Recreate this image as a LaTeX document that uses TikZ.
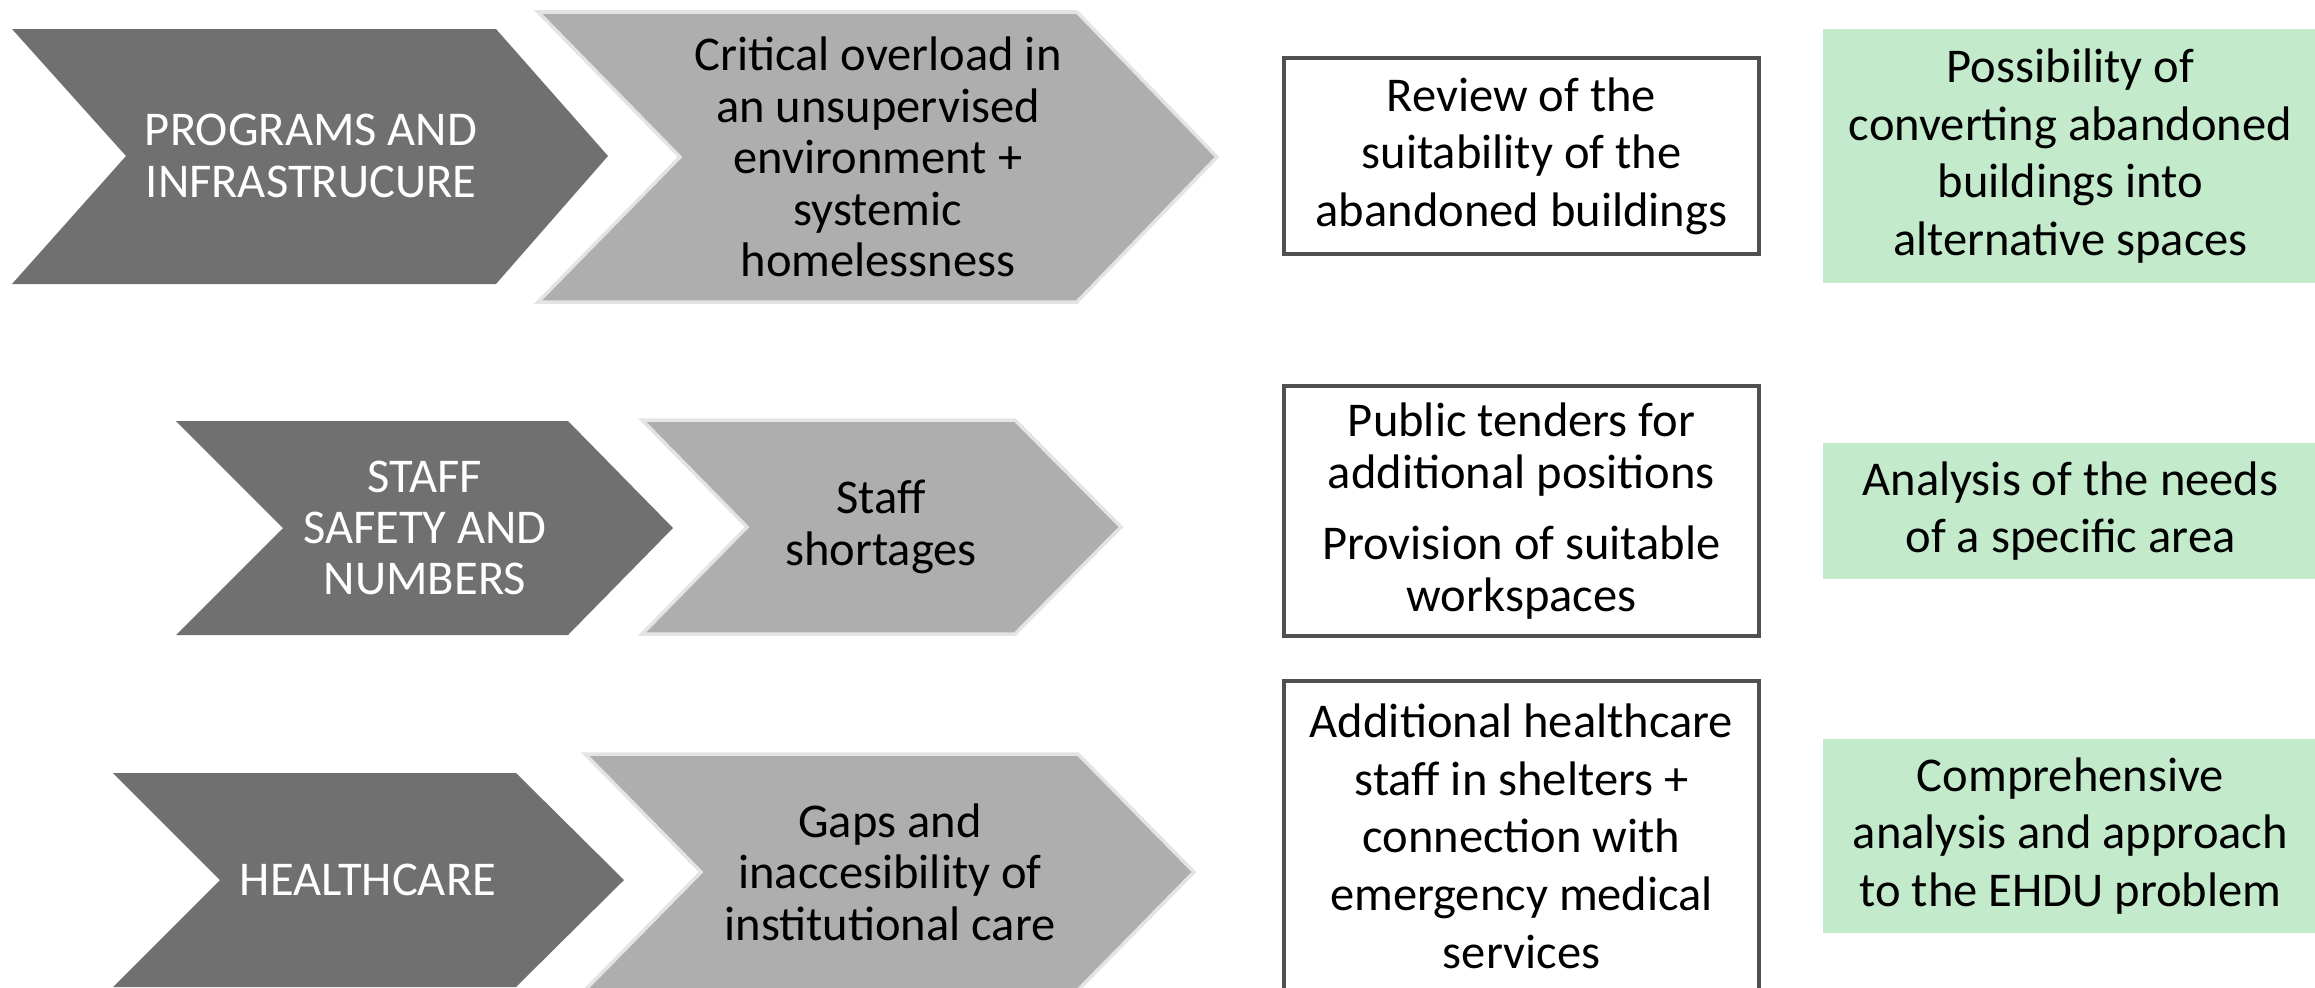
\documentclass[tikz,border=0pt]{standalone}
\usepackage{fontspec}
\setmainfont{Carlito}
\usepackage{tikz}
\usetikzlibrary{positioning}
\definecolor{chevdark}{HTML}{707070}
\definecolor{chevlight}{HTML}{AEAEAE}
\definecolor{chevedge}{HTML}{E4E4E4}
\definecolor{boxline}{HTML}{505050}
\definecolor{mint}{HTML}{C2EACB}

\begin{document}
\begin{tikzpicture}[x=0.01cm, y=-0.01cm,
    darkchev/.style={fill=chevdark},
    lightchev/.style={fill=chevlight, draw=chevedge, line width=1pt},
    headtext/.style={text=white, align=center, font=\fontsize{13.8}{14.6}\selectfont},
    issuetext/.style={text=black, align=center, font=\fontsize{13.8}{14.6}\selectfont},
    actbox/.style={draw=boxline, line width=1.1pt, fill=white, align=center, minimum width=4.75cm, inner sep=0pt, font=\fontsize{13.8}{16.4}\selectfont},
    goalbox/.style={fill=mint, align=center, minimum width=4.95cm, inner sep=0pt, font=\fontsize{13.8}{16.4}\selectfont}]
        \clip (0,0) rectangle (2315,987);
        % Chevrons
        \fill[darkchev] (12,29) -- (496,29) -- (608,156) -- (496,284) -- (12,284) -- (126,156) -- cycle;
        \filldraw[lightchev] (538,12) -- (1077,12) -- (1217,157) -- (1077,302) -- (538,302) -- (680,157) -- cycle;
        \fill[darkchev] (176,421) -- (568,421) -- (673,528) -- (568,635) -- (176,635) -- (283,528) -- cycle;
        \filldraw[lightchev] (642,420) -- (1015,420) -- (1121,527) -- (1015,634) -- (642,634) -- (747,527) -- cycle;
        \fill[darkchev] (113,773) -- (516,773) -- (624,880) -- (516,987) -- (113,987) -- (220,880) -- cycle;
        \filldraw[lightchev] (585,754) -- (1078,754) -- (1194,872) -- (1078,990) -- (585,990) -- (701,872) -- cycle;

        % Chevron labels
        \node[headtext] (programs) at (311,156) {PROGRAMS AND\\INFRASTRUCURE};
        \node[issuetext] (overload) at (878,157) {Critical overload in\\an unsupervised\\environment +\\systemic\\homelessness};
        \node[headtext] (staff) at (425,528) {STAFF\\SAFETY AND\\NUMBERS};
        \node[issuetext] (shortage) at (881,527) {Staff\\shortages};
        \node[headtext] (health) at (368,880) {HEALTHCARE};
        \node[issuetext] (gaps) at (890,872) {Gaps and\\inaccesibility of\\institutional care};

        % Measures
        \node[actbox, minimum height=1.96cm] (review) at (1521.5,156) {Review of the\\suitability of the\\abandoned buildings};
        \node[actbox, minimum height=2.5cm, font=\fontsize{13.8}{14.7}\selectfont] (tenders) at (1521.5,511) {Public tenders for\\additional positions\\[5.6pt]Provision of suitable\\workspaces};
        \node[actbox, minimum height=3.1cm] (medical) at (1521.5,836) {Additional healthcare\\staff in shelters +\\connection with\\emergency medical\\services};

        % Outcomes
        \node[goalbox, minimum height=2.53cm] (convert) [right=0.61cm of review] {Possibility of\\converting abandoned\\buildings into\\alternative spaces};
        \node[goalbox, minimum height=1.36cm] (needs) [right=0.61cm of tenders] {Analysis of the needs\\of a specific area};
        \node[goalbox, minimum height=1.94cm] (ehdu) [right=0.61cm of medical] {Comprehensive\\analysis and approach\\to the EHDU problem};
    \end{tikzpicture}
\end{document}
